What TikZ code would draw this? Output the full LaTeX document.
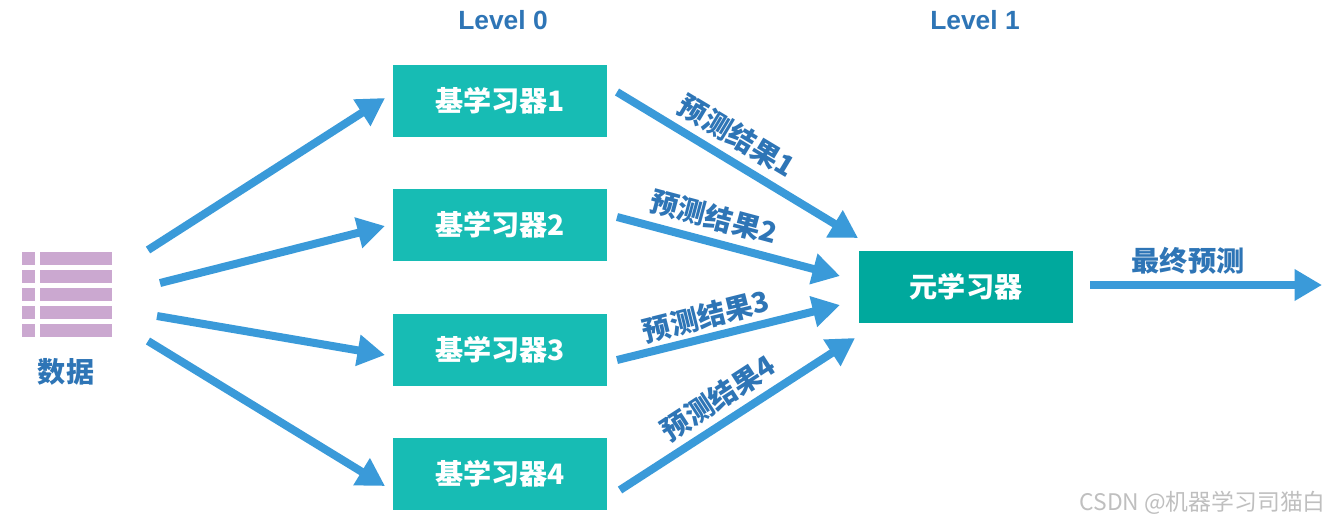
\documentclass[tikz,border=0pt]{standalone}
\usepackage{fontspec}
\setmainfont{Liberation Sans}
\newfontfamily\cjk{Noto Sans CJK SC}
\usetikzlibrary{arrows.meta}
\definecolor{lvblue}{HTML}{2E75B6}
\definecolor{arrblue}{HTML}{3A9AD9}
\definecolor{baseteal}{HTML}{17BCB4}
\definecolor{metateal}{HTML}{00A99D}
\definecolor{datapurple}{HTML}{CBA8D0}
\tikzset{
  learner/.style={draw=none, fill=baseteal, minimum width=4.3cm, minimum height=1.44cm,
    font=\cjk\bfseries\fontsize{16}{16}\selectfont, text=white},
  bigarrow/.style={draw=arrblue, line width=0.16cm, -{Triangle[length=0.55cm, width=0.6cm]}},
  blue label/.style={font=\cjk\bfseries\fontsize{16}{16}\selectfont, text=lvblue, inner sep=1pt},
}
\begin{document}
\begin{tikzpicture}[x=0.02cm, y=-0.02cm]
    \useasboundingbox (0,0) rectangle (1337,525);

    \node[font=\bfseries\fontsize{15}{15}\selectfont, text=lvblue] (L0) at (503,20) {Level 0};
    \node[font=\bfseries\fontsize{15}{15}\selectfont, text=lvblue] (L1) at (975,20) {Level 1};

    % base learners
    \node[learner] (B1) at (500,101) {基学习器1};
    \node[learner] (B2) at (500,225) {基学习器2};
    \node[learner] (B3) at (500,350) {基学习器3};
    \node[learner] (B4) at (500,474) {基学习器4};
    \node[learner, fill=metateal] (M) at (966,287) {元学习器};

    % data icon
    \foreach \r in {0,...,4} {
        \fill[datapurple] (22,252+\r*18) rectangle (35,265+\r*18);
        \fill[datapurple] (40,252+\r*18) rectangle (112,265+\r*18);
    }
    \node[blue label] (D) at (66,372) {数据};

    \coordinate (s1) at (148,250); \coordinate (e1) at (385,98);
    \coordinate (s2) at (160,283); \coordinate (e2) at (385,226);
    \coordinate (s3) at (157,316); \coordinate (e3) at (385,355);
    \coordinate (s4) at (148,341); \coordinate (e4) at (385,486);
    \draw[bigarrow] (s1) -- (e1);
    \draw[bigarrow] (s2) -- (e2);
    \draw[bigarrow] (s3) -- (e3);
    \draw[bigarrow] (s4) -- (e4);

    \coordinate (t1) at (617,92);  \coordinate (f1) at (858,238);
    \coordinate (t2) at (617,217); \coordinate (f2) at (840,276);
    \coordinate (t3) at (617,360); \coordinate (f3) at (840,305);
    \coordinate (t4) at (620,490); \coordinate (f4) at (855,338);
    \draw[bigarrow] (t1) -- (f1);
    \draw[bigarrow] (t2) -- (f2);
    \draw[bigarrow] (t3) -- (f3);
    \draw[bigarrow] (t4) -- (f4);
    \node[blue label, rotate=-31] (P1) at (737,136) {预测结果1};
    \node[blue label, rotate=-15] (P2) at (714,217) {预测结果2};
    \node[blue label, rotate=14] (P3) at (706,316) {预测结果3};
    \node[blue label, rotate=33] (P4) at (718,398) {预测结果4};

    \coordinate (o) at (1322,285);
    \draw[bigarrow] (1090,285) -- (o);
    \node[blue label] (F) at (1188,261) {最终预测};

    \node[font=\cjk\fontsize{13}{13}\selectfont, text=black!25, anchor=east] (W) at (1332,503) {CSDN @机器学习司猫白};
\end{tikzpicture}
\end{document}
